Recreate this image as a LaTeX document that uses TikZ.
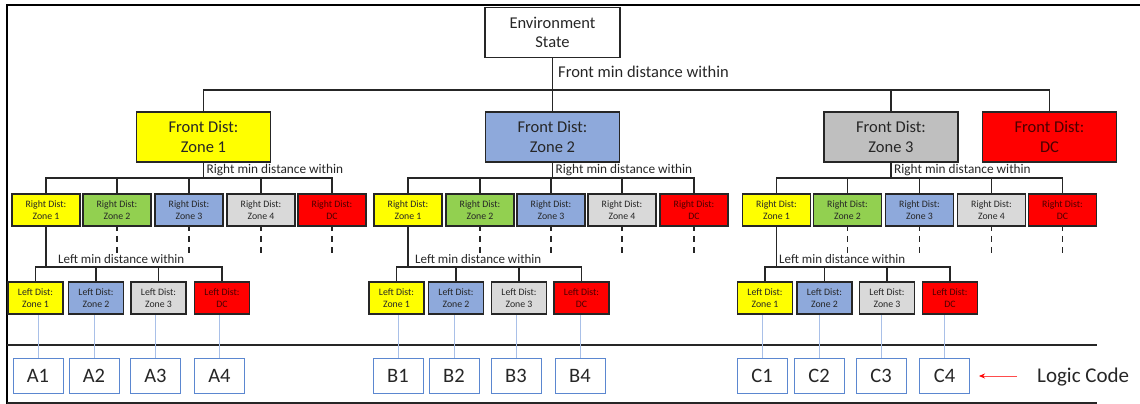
\documentclass[tikz,border=0pt]{standalone}
\usepackage{fontspec}
\setmainfont{Carlito}
\usetikzlibrary{arrows.meta}
\definecolor{cyel}{HTML}{FFFF00}
\definecolor{cgrn}{HTML}{92D050}
\definecolor{cblu}{HTML}{8EA9DB}
\definecolor{cgr3}{HTML}{BFBFBF}
\definecolor{cgr4}{HTML}{D9D9D9}
\definecolor{cred}{HTML}{FF0000}
\definecolor{ctxt}{HTML}{262626}
\definecolor{credtxt}{HTML}{4A0000}
\definecolor{ccode}{HTML}{5B87D0}
\definecolor{cthin}{HTML}{A9C0E8}
\tikzset{
  boxbase/.style={draw=black!85, line width=1.5pt, inner sep=0pt, align=center, text=ctxt},
  envbox/.style={boxbase, minimum width=135pt, minimum height=50pt, font=\fontsize{16.5}{19}\selectfont},
  frontbox/.style={boxbase, minimum width=134pt, minimum height=50pt, font=\fontsize{16.5}{20}\selectfont},
  rbox/.style={boxbase, minimum width=68pt, minimum height=32pt, font=\fontsize{9.8}{12.5}\selectfont},
  lbox/.style={boxbase, minimum width=55pt, minimum height=32pt, font=\fontsize{9.8}{12.5}\selectfont},
  codebox/.style={draw=ccode, line width=1pt, minimum width=50pt, minimum height=35pt, inner sep=0pt, font=\fontsize{20.5}{24}\selectfont, text=ctxt},
  redtext/.style={text=credtxt},
  tree/.style={draw=black!85, line width=1.3pt},
  dashdrop/.style={draw=black!85, line width=1.6pt, dash pattern=on 6pt off 5pt},
  thinline/.style={draw=cthin, line width=0.8pt},
  lbl/.style={anchor=west, inner sep=0pt, text=ctxt},
  rule/.style={draw=black!85, line width=1.4pt},
}
\begin{document}
\begin{tikzpicture}[x=1pt,y=-1pt]
\useasboundingbox (0,0) rectangle (1140,404);
% frame
\draw[line width=2pt] (7,404) -- (7,5) -- (1140,5);
\draw[rule] (7,345) -- (1097,345);
\draw[rule] (7,403) -- (1097,403);

\coordinate (bus) at (0,90);
\coordinate (rbus) at (0,178);
\coordinate (lbus) at (0,267);
\coordinate (dend) at (0,255);

\node[envbox] (env) at (552.5,32.5) {Environment\\State};
\node[frontbox, fill=cyel] (fz1) at (203.5,137) {Front Dist:\\Zone 1};
\node[frontbox, fill=cblu] (fz2) at (552.5,137) {Front Dist:\\Zone 2};
\node[frontbox, fill=cgr3] (fz3) at (891,137) {Front Dist:\\Zone 3};
\node[frontbox, fill=cred, redtext] (fdc) at (1049.5,137) {Front Dist:\\DC};

\draw[tree] (env.south) -- (fz2.north);
\draw[tree] (fz1.north) -- (fz1.north |- bus) -- (fdc.north |- bus) -- (fdc.north);
\draw[tree] (fz3.north) -- (fz3.north |- bus);
\node[lbl, font=\fontsize{16.5}{19}\selectfont] (flab) at (558,72) {Front min distance within};

% right groups
\foreach \g/\fx/\xa/\xb/\xc/\xd/\xe in {1/fz1/46/117/189/261/332, 2/fz2/408/480/551/622/694, 3/fz3/776.5/847.5/919.5/991.5/1062.5}{
  \node[rbox, fill=cyel] (r\g a) at (\xa,210) {Right Dist:\\Zone 1};
  \node[rbox, fill=cgrn] (r\g b) at (\xb,210) {Right Dist:\\Zone 2};
  \node[rbox, fill=cblu] (r\g c) at (\xc,210) {Right Dist:\\Zone 3};
  \node[rbox, fill=cgr4] (r\g d) at (\xd,210) {Right Dist:\\Zone 4};
  \node[rbox, fill=cred, redtext] (r\g e) at (\xe,210) {Right Dist:\\DC};
  \draw[tree] (\fx.south) -- (\fx.south |- rbus);
  \draw[tree] (r\g a.north) -- (r\g a.north |- rbus) -- (r\g e.north |- rbus) -- (r\g e.north);
  \foreach \k in {b,c,d}{\draw[tree] (r\g\k.north) -- (r\g\k.north |- rbus);}
  \foreach \k in {b,c,d,e}{\draw[dashdrop] ([yshift=2pt]r\g\k.south) -- (r\g\k.south |- dend);}
  \node[lbl, font=\fontsize{13.3}{16}\selectfont] (rl\g) at ([xshift=3pt]\fx.south |- 0,170) {Right min distance within};
}

% left groups
\foreach \g/\xa/\xb/\xc/\xd/\lx in {1/35.5/96/158.5/222/58, 2/396.5/456/519/581.5/415, 3/765/824.5/887/950/779}{
  \node[lbox, fill=cyel] (l\g a) at (\xa,298) {Left Dist:\\Zone 1};
  \node[lbox, fill=cblu] (l\g b) at (\xb,298) {Left Dist:\\Zone 2};
  \node[lbox, fill=cgr4] (l\g c) at (\xc,298) {Left Dist:\\Zone 3};
  \node[lbox, fill=cred, redtext] (l\g d) at (\xd,298) {Left Dist:\\DC};
  \draw[tree] (r\g a.south) -- (r\g a.south |- lbus);
  \draw[tree] (l\g a.north) -- (l\g a.north |- lbus) -- (l\g d.north |- lbus) -- (l\g d.north);
  \foreach \k in {b,c}{\draw[tree] (l\g\k.north) -- (l\g\k.north |- lbus);}
  \node[lbl, font=\fontsize{13}{16}\selectfont] (ll\g) at (\lx,259) {Left min distance within};
}

% code boxes
\foreach \g/\L/\xa/\xb/\xc/\xd in {1/A/38/94/155.5/219.5, 2/B/398/454/516/580, 3/C/762/819/881/944.5}{
  \node[codebox] (c\g a) at (\xa,375.5) {\L1};
  \node[codebox] (c\g b) at (\xb,375.5) {\L2};
  \node[codebox] (c\g c) at (\xc,375.5) {\L3};
  \node[codebox] (c\g d) at (\xd,375.5) {\L4};
  \foreach \k in {a,b,c,d}{\draw[thinline] (c\g\k.north) -- (c\g\k.north |- l\g\k.south);}
}

\node[lbl, font=\fontsize{21}{24}\selectfont] (logic) at (1037,377) {Logic Code};
\coordinate (arrs) at (1017,376);
\draw[draw=red!70, line width=0.7pt, -{Stealth[length=6pt,width=5pt,red]}] (arrs) -- (979,376);
\end{tikzpicture}
\end{document}
